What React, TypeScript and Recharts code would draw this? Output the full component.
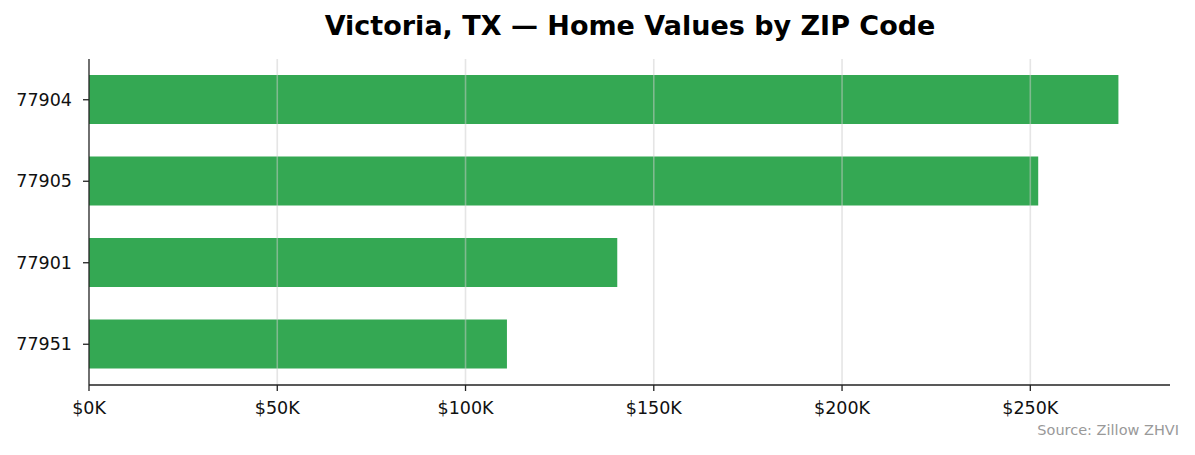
import React from 'react';
import { BarChart, Bar, XAxis, YAxis, ReferenceLine } from 'recharts';

const zips: string[] = ['77904', '77905', '77901', '77951'];
const homeValues: number[] = [273400, 252100, 140300, 111000];
const xTicks: number[] = [0, 50000, 100000, 150000, 200000, 250000];
const xMax = 287100;

const data = zips.map((zip, i) => ({ zip, value: homeValues[i] }));

const FONT = '"DejaVu Sans", sans-serif';
const W = 1179;
const H = 439;

export default function App() {
  return (
    <div style={{ position: 'relative', width: W, height: H, fontFamily: FONT }}>
      <div
        style={{
          position: 'absolute',
          left: 622,
          top: 4,
          transform: 'translateX(-50%)',
          whiteSpace: 'nowrap',
          fontSize: 27,
          lineHeight: '1',
          fontWeight: 'bold',
          color: '#000',
        }}
      >
        Victoria, TX — Home Values by ZIP Code
      </div>
      <BarChart
        width={W}
        height={H}
        data={data}
        layout="vertical"
        margin={{ top: 51, right: 17, bottom: 32, left: 0 }}
      >
        <Bar dataKey="value" fill="#34a853" barSize={49} isAnimationActive={false} />
        {xTicks.slice(1).map((t) => (
          <ReferenceLine
            key={t}
            x={t}
            stroke="#cccccc"
            strokeOpacity={0.5}
            strokeWidth={1.6}
            zIndex={500}
          />
        ))}
        <XAxis
          type="number"
          dataKey="value"
          domain={[0, xMax]}
          ticks={xTicks}
          allowDataOverflow
          tickFormatter={(v: number) => `$${v / 1000}K`}
          height={30}
          tickSize={6}
          tickMargin={11}
          axisLine={{ stroke: '#222', strokeWidth: 1.3 }}
          tickLine={{ stroke: '#222', strokeWidth: 1.3 }}
          tick={{ fill: '#111', fontSize: 17.5, fontFamily: FONT }}
        />
        <YAxis
          type="category"
          dataKey="zip"
          width={81}
          tickSize={6}
          tickMargin={11}
          axisLine={{ stroke: '#222', strokeWidth: 1.3 }}
          tickLine={{ stroke: '#222', strokeWidth: 1.3 }}
          tick={{ fill: '#111', fontSize: 17.5, fontFamily: FONT }}
        />
      </BarChart>
      <div
        style={{
          position: 'absolute',
          right: 8,
          top: 415,
          whiteSpace: 'nowrap',
          fontSize: 14.5,
          lineHeight: '1',
          color: '#999',
        }}
      >
        Source: Zillow ZHVI
      </div>
    </div>
  );
}
